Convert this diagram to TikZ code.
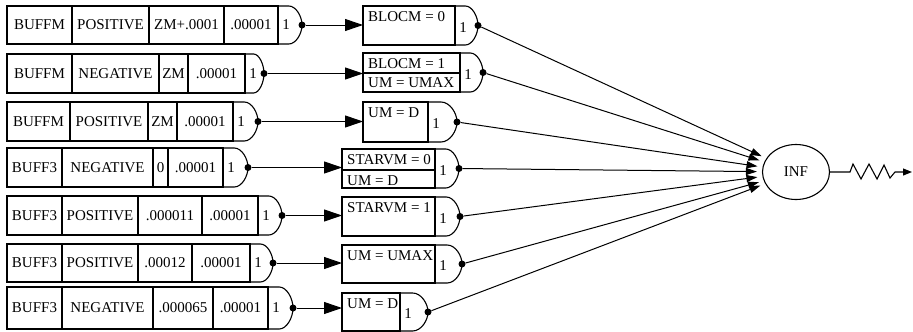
\documentclass[tikz,border=0pt]{standalone}
\usepackage{fontspec}
\setmainfont{Liberation Serif}
\usetikzlibrary{arrows.meta,shapes.geometric}
\begin{document}
\begin{tikzpicture}[x=1pt,y=-1pt,
  every node/.style={font=\fontsize{15}{17}\selectfont},
  cellbox/.style={draw, line width=1.1pt, outer sep=0pt, inner sep=0pt, anchor=north west},
  edge/.style={line width=1.1pt},
  bigarrow/.style={line width=1pt, -{Triangle[length=18pt,width=12pt]}},
  smallarrow/.style={line width=1pt, -{Triangle[length=11pt,width=7pt]}, shorten >=5pt},
  dotmark/.style={circle, fill, inner sep=0pt, minimum size=7pt},
  toptext/.style={anchor=north west, inner sep=0pt}]
\fill[white] (0,0) rectangle (913,332);
\useasboundingbox (0,0) rectangle (913,332);

% target node
\node[draw, ellipse, line width=1.1pt, minimum width=67pt, minimum height=55pt, inner sep=0pt] (inf) at (796,172) {INF};

% left rows
\foreach \n/\ya/\yb/\xa/\xb/\xc/\xd/\xt/\ta/\tb/\tc/\td in {
  1/6/44/72/149/224/278/302/BUFFM/POSITIVE/ZM+.0001/.00001,
  2/54/93/72/159/188/245/264/BUFFM/NEGATIVE/ZM/.00001,
  3/102/141/70/148/177/233/258/BUFFM/POSITIVE/ZM/.00001,
  4/148/187/62/153/168/223/248/BUFF3/NEGATIVE/0/.00001,
  5/196/235/62/138/202/258/282/BUFF3/POSITIVE/.000011/.00001,
  6/244/282/62/138/192/250/273/BUFF3/POSITIVE/.00012/.00001,
  7/287/329/62/153/213/268/293/BUFF3/NEGATIVE/.000065/.00001}{
  \pgfmathsetmacro\hh{\yb-\ya}
  \pgfmathsetmacro\mm{(\ya+\yb)/2}
  \pgfmathsetmacro\fl{\xd+0.45*(\xt-\xd)}
  \pgfmathsetmacro\cx{\fl+0.55*(\xt-\fl)}
  \node[cellbox, minimum width={\xa-7}, minimum height=\hh] (La\n) at (7,\ya) {\ta};
  \node[cellbox, minimum width={\xb-\xa}, minimum height=\hh] (Lb\n) at (\xa,\ya) {\tb};
  \node[cellbox, minimum width={\xc-\xb}, minimum height=\hh] (Lc\n) at (\xb,\ya) {\tc};
  \node[cellbox, minimum width={\xd-\xc}, minimum height=\hh] (Ld\n) at (\xc,\ya) {\td};
  \draw[edge] (\xd,\ya) -- (\fl,\ya) .. controls (\cx,\ya) and (\xt,{\mm-0.45*(\mm-\ya)}) .. (\xt,\mm)
     .. controls (\xt,{\mm+0.45*(\yb-\mm)}) and (\cx,\yb) .. (\fl,\yb) -- (\xd,\yb);
  \node (Lone\n) at ({\xd+8},\mm) {1};
  \node[dotmark] (Ldot\n) at (\xt,\mm) {};
}

% right rows
\foreach \n/\ya/\yb/\xl/\xd/\xt/\ta in {
  1/6/45/363/455/478/{BLOCM = 0},
  2/53/92/363/460/483/{BLOCM = 1},
  3/102/142/363/428/457/{UM = D},
  4/149/188/342/435/459/{STARVM = 0},
  5/197/236/342/435/460/{STARVM = 1},
  6/245/283/342/435/462/{UM = UMAX},
  7/293/331/342/400/428/{UM = D}}{
  \pgfmathsetmacro\hh{\yb-\ya}
  \pgfmathsetmacro\mm{(\ya+\yb)/2}
  \pgfmathsetmacro\fl{\xd+0.45*(\xt-\xd)}
  \pgfmathsetmacro\cx{\fl+0.55*(\xt-\fl)}
  \node[cellbox, minimum width={\xd-\xl}, minimum height=\hh] (R\n) at (\xl,\ya) {};
  \node[toptext] (Rtxt\n) at ({\xl+5},{\ya+5}) {\ta};
  \draw[edge] (\xd,\ya) -- (\fl,\ya) .. controls (\cx,\ya) and (\xt,{\mm-0.45*(\mm-\ya)}) .. (\xt,\mm)
     .. controls (\xt,{\mm+0.45*(\yb-\mm)}) and (\cx,\yb) .. (\fl,\yb) -- (\xd,\yb);
  \node (Rone\n) at ({\xd+8},{\mm+2}) {1};
  \node[dotmark] (Rdot\n) at (\xt,\mm) {};
  \draw[bigarrow] (Ldot\n) -- (Ldot\n -| R\n.west);
  \draw[smallarrow] (Rdot\n) -- (inf);
}

% second lines of the split boxes
\draw[edge] (363,73) -- (460,73);
\node[toptext] (Rtxt2b) at (368,77) {UM = UMAX};
\draw[edge] (342,170) -- (435,170);
\node[toptext] (Rtxt4b) at (347,175) {UM = D};

% output with spring
\coordinate (outend) at (912,172);
\draw[edge, -{Triangle[length=9pt,width=7pt]}] (inf.east) -- (850,172) -- (853,164) -- (861,179) -- (869,164) -- (877,179) -- (884,165) -- (890,178) -- (895,172) -- (outend);
\end{tikzpicture}
\end{document}
